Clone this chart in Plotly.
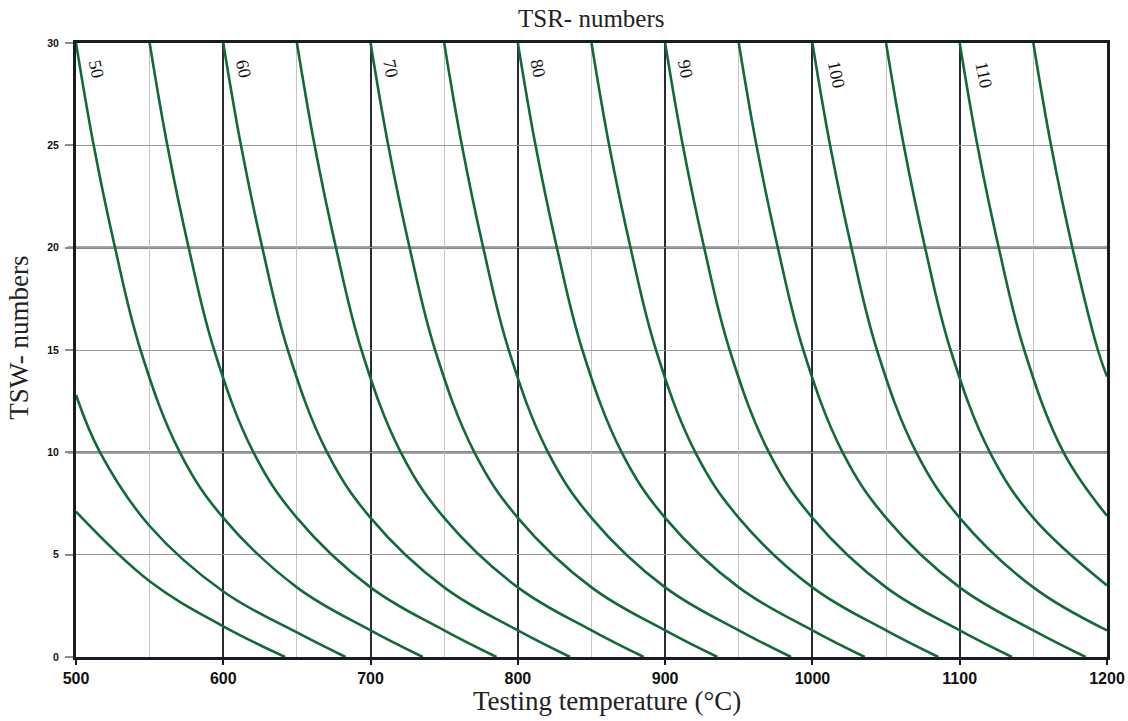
import plotly.graph_objects as go

# TSR number of every curve
TSR_NUMBERS = [40, 45, 50, 55, 60, 65, 70, 75, 80, 85, 90, 95, 100, 105, 110, 115]

# Testing temperature (°C) along each TSR curve
CURVE_T = [
    [500, 550, 600, 642],
    [500, 516.3, 550, 600, 650, 683],
    [500, 512, 526.5, 543.8, 570.5, 600, 650, 700, 735.5],
    [550, 562, 576.5, 593.8, 620.5, 650, 700, 750, 785.5],
    [600, 612, 626.5, 643.8, 670.5, 700, 750, 800, 835.5],
    [650, 662, 676.5, 693.8, 720.5, 750, 800, 850, 885.5],
    [700, 712, 726.5, 743.8, 770.5, 800, 850, 900, 935.5],
    [750, 762, 776.5, 793.8, 820.5, 850, 900, 950, 985.5],
    [800, 812, 826.5, 843.8, 870.5, 900, 950, 1000, 1035.5],
    [850, 862, 876.5, 893.8, 920.5, 950, 1000, 1050, 1085.5],
    [900, 912, 926.5, 943.8, 970.5, 1000, 1050, 1100, 1135.5],
    [950, 962, 976.5, 993.8, 1020.5, 1050, 1100, 1150, 1185.5],
    [1000, 1012, 1026.5, 1043.8, 1070.5, 1100, 1150, 1200],
    [1050, 1062, 1076.5, 1093.8, 1120.5, 1150, 1200],
    [1100, 1112, 1126.5, 1143.8, 1170.5, 1200],
    [1150, 1162, 1176.5, 1193.8, 1200],
]

# TSW number along each TSR curve
CURVE_TSW = [
    [7.1, 3.7, 1.5, 0],
    [12.8, 10, 6.4, 3.2, 1.2, 0],
    [30, 25, 20, 15, 10, 6.8, 3.4, 1.3, 0],
    [30, 25, 20, 15, 10, 6.8, 3.4, 1.3, 0],
    [30, 25, 20, 15, 10, 6.8, 3.4, 1.3, 0],
    [30, 25, 20, 15, 10, 6.8, 3.4, 1.3, 0],
    [30, 25, 20, 15, 10, 6.8, 3.4, 1.3, 0],
    [30, 25, 20, 15, 10, 6.8, 3.4, 1.3, 0],
    [30, 25, 20, 15, 10, 6.8, 3.4, 1.3, 0],
    [30, 25, 20, 15, 10, 6.8, 3.4, 1.3, 0],
    [30, 25, 20, 15, 10, 6.8, 3.4, 1.3, 0],
    [30, 25, 20, 15, 10, 6.8, 3.4, 1.3, 0],
    [30, 25, 20, 15, 10, 6.8, 3.4, 1.3],
    [30, 25, 20, 15, 10, 6.8, 3.5],
    [30, 25, 20, 15, 10, 6.9],
    [30, 25, 20, 15, 13.7],
]

# Curves whose TSR number is printed beside them
LABELLED_TSR = [50, 60, 70, 80, 90, 100, 110]

X_TICKS = [500, 600, 700, 800, 900, 1000, 1100, 1200]
Y_TICKS = [0, 5, 10, 15, 20, 25, 30]

GREEN = "#12693a"
FRAME = "#1b1b26"
SERIF = "Liberation Serif, Times New Roman, serif"
SANS = "Liberation Sans, Arial, sans-serif"

fig = go.Figure()

for tsr, ts, ws in zip(TSR_NUMBERS, CURVE_T, CURVE_TSW):
    fig.add_trace(go.Scatter(
        x=ts, y=ws, mode="lines", name=f"TSR {tsr}",
        line=dict(color=GREEN, width=2.6, shape="spline", smoothing=1.1),
        hoverinfo="x+y+name", showlegend=False,
    ))

# curve labels, written along the top of each labelled curve
for tsr, ts in zip(TSR_NUMBERS, CURVE_T):
    if tsr in LABELLED_TSR:
        txt = str(tsr)
        dx = 16.5 if len(txt) > 2 else 14
        fig.add_annotation(
            x=ts[0] + dx, y=28.75 if len(txt) == 2 else 28.45,
            text=txt, showarrow=False, textangle=78,
            font=dict(family=SERIF, size=18, color="#111"),
            xanchor="center", yanchor="middle",
        )

# heavier horizontal rules at TSW 10 and 20
for yv in (10, 20):
    fig.add_shape(type="line", xref="paper", x0=-0.008, x1=1, yref="y",
                  y0=yv, y1=yv, layer="below",
                  line=dict(color="#888888", width=2.6))

fig.update_xaxes(
    range=[500, 1200], tickmode="array", tickvals=X_TICKS,
    ticktext=[str(v) for v in X_TICKS],
    showgrid=True, gridcolor="#2a2a36", gridwidth=1.8,
    minor=dict(dtick=50, tick0=500, showgrid=True, gridcolor="#c4c4c4", gridwidth=1.4),
    showline=True, linecolor=FRAME, linewidth=3, mirror=True,
    ticks="outside", ticklen=5, tickwidth=2, tickcolor=FRAME,
    tickfont=dict(family=SANS, size=16, color="#111", weight="bold"),
    ticklabelstandoff=0,
    zeroline=False, automargin=False,
)
fig.update_yaxes(
    range=[0, 30], tickmode="array", tickvals=Y_TICKS,
    ticktext=[str(v) for v in Y_TICKS],
    showgrid=True, gridcolor="#9a9a9a", gridwidth=1.3,
    showline=True, linecolor=FRAME, linewidth=3, mirror=True,
    ticks="outside", ticklen=8, tickwidth=1.5, tickcolor="#8c8c8c",
    tickfont=dict(family=SANS, size=10.5, color="#111", weight="bold"),
    ticklabelstandoff=4,
    zeroline=False, automargin=False,
)

fig.add_annotation(text="TSR- numbers", xref="paper", yref="paper",
                   x=0.5, y=1 + 24 / 614, showarrow=False,
                   font=dict(family=SERIF, size=25, color="#222"),
                   xanchor="center", yanchor="middle")
fig.add_annotation(text="Testing temperature (°C)", xref="paper", yref="paper",
                   x=0.515, y=-44 / 614, showarrow=False,
                   font=dict(family=SERIF, size=27, color="#222"),
                   xanchor="center", yanchor="middle")
fig.add_annotation(text="TSW- numbers", xref="paper", yref="paper",
                   x=-57 / 1031, y=0.52, showarrow=False, textangle=-90,
                   font=dict(family=SERIF, size=27, color="#222"),
                   xanchor="center", yanchor="middle")

fig.update_layout(
    width=1128, height=721,
    margin=dict(l=76, r=21, t=43, b=64),
    paper_bgcolor="white", plot_bgcolor="white",
    showlegend=False,
)

fig.write_html("out.html")
